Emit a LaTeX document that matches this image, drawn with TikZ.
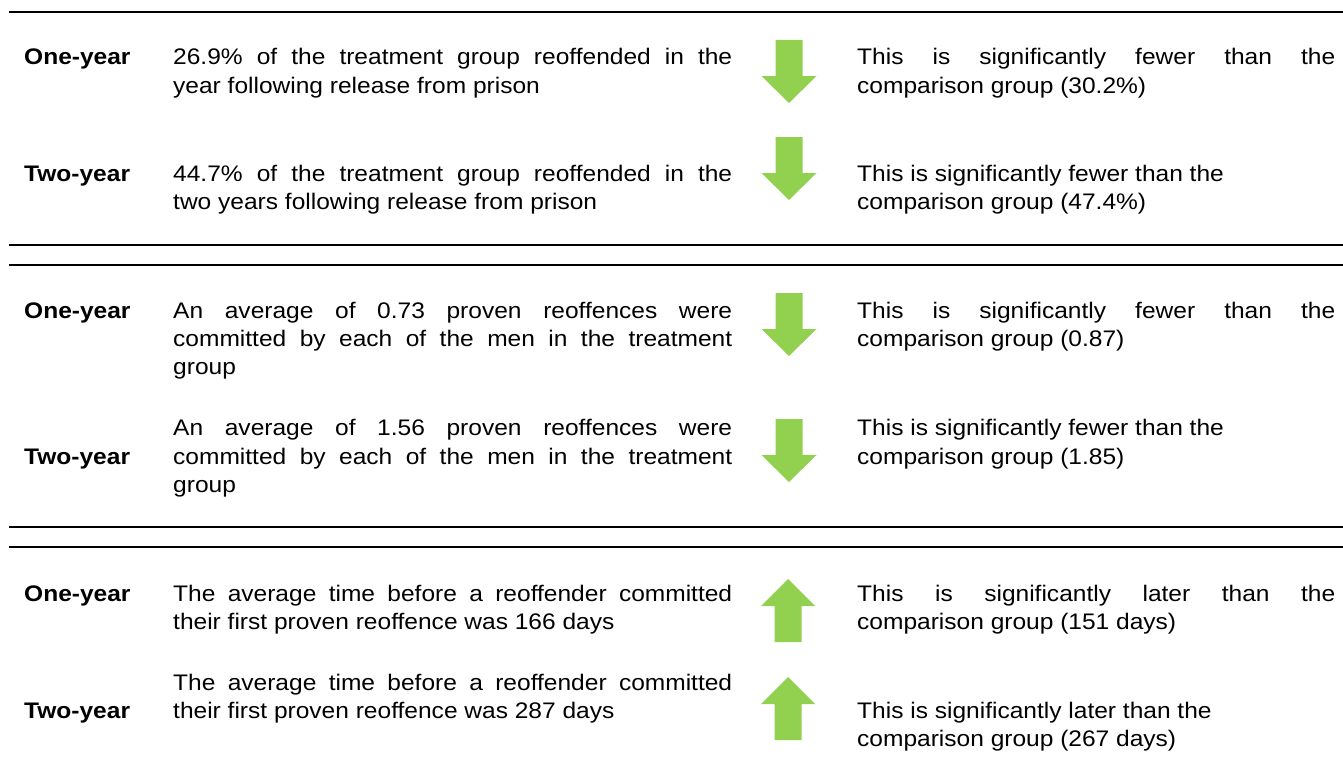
\documentclass[tikz,border=0pt]{standalone}
\usepackage{fontspec}
\setmainfont{Liberation Sans}[FakeStretch=1.09]
\definecolor{arrowgreen}{HTML}{92D050}
\newcommand\midjust[1]{\makebox[559pt][s]{#1}}
\newcommand\rtjust[1]{\makebox[478pt][s]{#1}}
\tikzset{
  txt/.style={anchor=base west, inner sep=0pt, font=\fontsize{22.5pt}{28pt}\selectfont},
  lbl/.style={txt, font=\fontsize{22.5pt}{28pt}\selectfont\bfseries},
  rule/.style={line width=2pt, black},
  downarr/.pic={\fill[arrowgreen] (-13.5,0) -- (13.5,0) -- (13.5,36) -- (27.5,36) -- (0,63) -- (-27.5,36) -- (-13.5,36) -- cycle;},
  uparr/.pic={\fill[arrowgreen] (0,0) -- (27,27) -- (13.5,27) -- (13.5,63) -- (-13.5,63) -- (-13.5,27) -- (-27,27) -- cycle;}
}
\begin{document}
\begin{tikzpicture}[x=1pt,y=-1pt]
\useasboundingbox (0,0) rectangle (1343,768);
% rules
\coordinate (h1a) at (9,12);  \coordinate (h1b) at (1343,12);
\coordinate (h2a) at (9,245); \coordinate (h2b) at (1343,245);
\coordinate (h3a) at (9,265); \coordinate (h3b) at (1343,265);
\coordinate (h4a) at (9,527); \coordinate (h4b) at (1343,527);
\coordinate (h5a) at (9,547); \coordinate (h5b) at (1343,547);
\draw[rule] (h1a) -- (h1b);
\draw[rule] (h2a) -- (h2b);
\draw[rule] (h3a) -- (h3b);
\draw[rule] (h4a) -- (h4b);
\draw[rule] (h5a) -- (h5b);
% block 1
\node[lbl] (l1) at (24,65) {One-year};
\node[txt] (m1a) at (173,65) {\midjust{26.9\% of the treatment group reoffended in the}};
\node[txt] (m1b) at (173,93) {year following release from prison};
\pic at (789,40) {downarr};
\node[txt] (r1a) at (857,65) {\rtjust{This is significantly fewer than the}};
\node[txt] (r1b) at (857,93) {comparison group (30.2\%)};
\node[lbl] (l2) at (24,181) {Two-year};
\node[txt] (m2a) at (173,181) {\midjust{44.7\% of the treatment group reoffended in the}};
\node[txt] (m2b) at (173,209) {two years following release from prison};
\pic at (789,137) {downarr};
\node[txt] (r2a) at (857,181) {This is significantly fewer than the};
\node[txt] (r2b) at (857,209) {comparison group (47.4\%)};
% block 2
\node[lbl] (l3) at (24,318) {One-year};
\node[txt] (m3a) at (173,318) {\midjust{An average of 0.73 proven reoffences were}};
\node[txt] (m3b) at (173,346) {\midjust{committed by each of the men in the treatment}};
\node[txt] (m3c) at (173,374) {group};
\pic at (789,293) {downarr};
\node[txt] (r3a) at (857,318) {\rtjust{This is significantly fewer than the}};
\node[txt] (r3b) at (857,346) {comparison group (0.87)};
\node[lbl] (l4) at (24,464) {Two-year};
\node[txt] (m4a) at (173,435) {\midjust{An average of 1.56 proven reoffences were}};
\node[txt] (m4b) at (173,464) {\midjust{committed by each of the men in the treatment}};
\node[txt] (m4c) at (173,492) {group};
\pic at (789,419) {downarr};
\node[txt] (r4a) at (857,435) {This is significantly fewer than the};
\node[txt] (r4b) at (857,464) {comparison group (1.85)};
% block 3
\node[lbl] (l5) at (24,601) {One-year};
\node[txt] (m5a) at (173,601) {\midjust{The average time before a reoffender committed}};
\node[txt] (m5b) at (173,629) {their first proven reoffence was 166 days};
\pic at (788,579) {uparr};
\node[txt] (r5a) at (857,601) {\rtjust{This is significantly later than the}};
\node[txt] (r5b) at (857,629) {comparison group (151 days)};
\node[lbl] (l6) at (24,718) {Two-year};
\node[txt] (m6a) at (173,690) {\midjust{The average time before a reoffender committed}};
\node[txt] (m6b) at (173,718) {their first proven reoffence was 287 days};
\pic at (788,677) {uparr};
\node[txt] (r6a) at (857,718) {This is significantly later than the};
\node[txt] (r6b) at (857,746) {comparison group (267 days)};
\end{tikzpicture}
\end{document}
